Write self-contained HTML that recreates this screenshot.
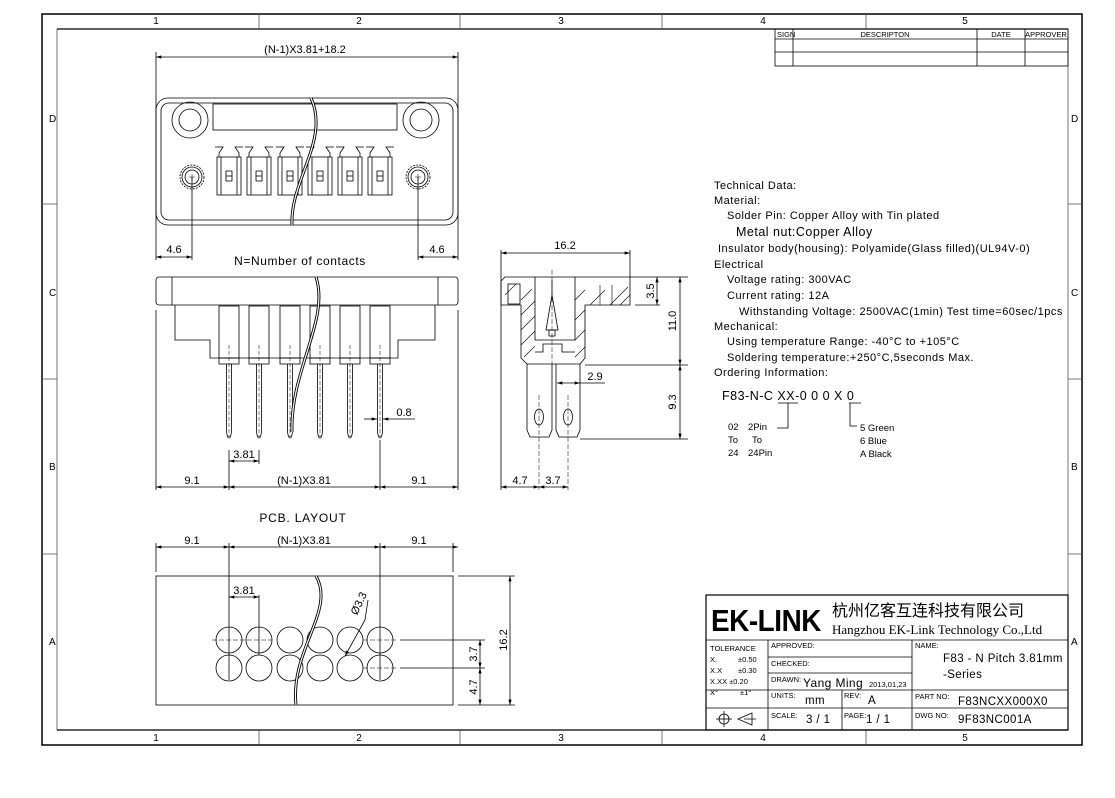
<!DOCTYPE html>
<html><head><meta charset="utf-8"><style>
body{margin:0;background:#fff}
svg{display:block}
text{font-family:"Liberation Sans","Noto Sans CJK SC",sans-serif;fill:#000}
</style></head><body>
<svg width="1115" height="798" viewBox="0 0 1115 798" xmlns="http://www.w3.org/2000/svg">
<defs>
<g id="term" fill="none" stroke="#000" stroke-width="0.8">
 <path d="M-14,147 h8 l-4,6 v4 M14,147 h-8 l4,6 v4"/>
 <rect x="-12" y="157" width="24" height="38"/>
 <line x1="-8" y1="157" x2="-8" y2="195"/><line x1="8" y1="157" x2="8" y2="195"/>
 <rect x="-3" y="171" width="6" height="10"/><line x1="-3" y1="176" x2="3" y2="176"/>
</g>
<g id="nut" fill="none" stroke="#000" stroke-width="0.8">
 <circle r="12" stroke-dasharray="2 1.2"/><circle r="10"/><circle r="7"/>
 <line x1="-3" y1="0" x2="3" y2="0" stroke-width="0.5"/><line x1="0" y1="-3" x2="0" y2="3" stroke-width="0.5"/>
</g>
<g id="pin" fill="none" stroke="#000" stroke-width="0.8">
 <rect x="-10" y="306" width="20" height="52"/><rect x="-10" y="358" width="20" height="6"/>
 <path d="M-2.5,364 V432 L-1.5,437 H1.5 L2.5,432 V364"/>
 <line x1="0" y1="345" x2="0" y2="440" stroke-dasharray="4 2" stroke-width="0.5"/>
</g>
<g id="hole" fill="none" stroke="#000" stroke-width="0.8"><circle r="13"/></g>
<marker id="a" viewBox="0 0 10 6" refX="10" refY="3" markerWidth="8" markerHeight="4" orient="auto-start-reverse"><path d="M0,0 L10,3 L0,6z" fill="#000"/></marker>
</defs>
<g fill="none" stroke="#000">
<rect x="42" y="14" width="1040" height="731" stroke-width="1.5"/>
<rect x="57" y="29" width="1011" height="701" stroke-width="0.8" stroke="#555"/>
<line x1="57" y1="29" x2="1068" y2="29" stroke-width="1.2"/>
<line x1="57" y1="730" x2="1068" y2="730" stroke-width="1.2"/>
<g stroke="#555" stroke-width="0.8">
<line x1="259" y1="14" x2="259" y2="29"/><line x1="460" y1="14" x2="460" y2="29"/><line x1="662" y1="14" x2="662" y2="29"/><line x1="866" y1="14" x2="866" y2="29"/>
<line x1="259" y1="730" x2="259" y2="745"/><line x1="460" y1="730" x2="460" y2="745"/><line x1="662" y1="730" x2="662" y2="745"/><line x1="866" y1="730" x2="866" y2="745"/>
<line x1="42" y1="204" x2="57" y2="204"/><line x1="42" y1="379" x2="57" y2="379"/><line x1="42" y1="554" x2="57" y2="554"/>
<line x1="1068" y1="204" x2="1082" y2="204"/><line x1="1068" y1="379" x2="1082" y2="379"/><line x1="1068" y1="554" x2="1082" y2="554"/>
</g>
<g stroke-width="0.8">
<rect x="775" y="29" width="293" height="37"/>
<line x1="775" y1="39" x2="1068" y2="39"/><line x1="775" y1="52" x2="1068" y2="52"/>
<line x1="793" y1="29" x2="793" y2="66"/><line x1="977" y1="29" x2="977" y2="66"/><line x1="1025" y1="29" x2="1025" y2="66"/>
</g>

<g stroke-width="0.8">
<line x1="156" y1="57" x2="458" y2="57" marker-start="url(#a)" marker-end="url(#a)"/>
<line x1="156" y1="52" x2="156" y2="260"/><line x1="458" y1="52" x2="458" y2="260"/>
<rect x="156" y="98" width="302" height="127" rx="12"/>
<rect x="161" y="103" width="292" height="117" rx="8"/>
<rect x="213" y="104" width="184" height="26"/>
<circle cx="190" cy="120" r="18"/><circle cx="190" cy="120" r="11"/>
<circle cx="421" cy="120" r="18"/><circle cx="421" cy="120" r="11"/>
<use href="#term" x="229"/><use href="#term" x="259"/><use href="#term" x="290"/><use href="#term" x="320"/><use href="#term" x="350"/><use href="#term" x="380"/>
<use href="#nut" x="192" y="177"/><use href="#nut" x="418" y="177"/>
<line x1="192" y1="177" x2="192" y2="260"/><line x1="418" y1="177" x2="418" y2="260"/>
<line x1="156" y1="257" x2="192" y2="257" marker-start="url(#a)" marker-end="url(#a)"/>
<line x1="418" y1="257" x2="458" y2="257" marker-start="url(#a)" marker-end="url(#a)"/>
<path d="M311,98 C330,140 290,180 292,225" stroke-width="3"/><path d="M311,98 C330,140 290,180 292,225" stroke="#fff" stroke-width="1.2"/>
</g>

<g stroke-width="0.8">
<rect x="156" y="277" width="302" height="28" rx="3"/>
<line x1="172" y1="277" x2="172" y2="305"/><line x1="438" y1="277" x2="438" y2="305"/>
<path d="M175,305 V340 H210 V358 H398 V340 H435 V305"/>
<use href="#pin" x="229"/><use href="#pin" x="259"/><use href="#pin" x="290"/><use href="#pin" x="320"/><use href="#pin" x="350"/><use href="#pin" x="380"/>
<path d="M316,277 C330,320 290,370 292,432" stroke-width="3"/><path d="M316,277 C330,320 290,370 292,432" stroke="#fff" stroke-width="1.2"/>
<line x1="156" y1="310" x2="156" y2="490"/><line x1="458" y1="310" x2="458" y2="490"/>
<line x1="229" y1="450" x2="229" y2="490"/><line x1="259" y1="450" x2="259" y2="464"/><line x1="380" y1="440" x2="380" y2="490"/>
<line x1="229" y1="461" x2="259" y2="461" marker-start="url(#a)" marker-end="url(#a)"/>
<line x1="364" y1="419" x2="377" y2="419" marker-end="url(#a)"/><line x1="383" y1="419" x2="415" y2="419" marker-start="url(#a)"/>
<line x1="156" y1="487" x2="229" y2="487" marker-start="url(#a)" marker-end="url(#a)"/>
<line x1="229" y1="487" x2="380" y2="487" marker-start="url(#a)" marker-end="url(#a)"/>
<line x1="380" y1="487" x2="458" y2="487" marker-start="url(#a)" marker-end="url(#a)"/>
</g>

<g stroke-width="0.8">
<line x1="501" y1="253" x2="630" y2="253" marker-start="url(#a)" marker-end="url(#a)"/>
<line x1="501" y1="250" x2="501" y2="490"/><line x1="630" y1="250" x2="630" y2="277"/>
<path d="M505,277 H630 V305 H585 V358 L580,364 H527 L521,358 V305 H501 V281 Z"/>
<path d="M535,277 V340 H575 V277"/>
<rect x="508" y="284" width="12" height="20"/>
<g stroke-width="0.6">
<path d="M521,300 L532,289 M521,315 L535,301 M521,330 L535,316 M521,345 L535,331 M524,357 L535,346 M505,295 L516,284 M575,300 L585,290 M575,320 L585,310 M575,340 L585,330 M575,357 L585,347 M590,305 L605,290 M610,305 L628,287 M620,305 L630,295"/>
<line x1="600" y1="285" x2="600" y2="305"/><line x1="612" y1="285" x2="612" y2="305"/>
</g>
<path d="M552,280 V295 L546,330 H558 L552,295" />
<rect x="549" y="330" width="6" height="6"/>
<path d="M535,352 H543 V344 H562 V352 H575"/>
<path d="M527,364 V430 L530,437 H549 L552,430 V364 M556,364 V430 L559,437 H577 L580,430 V364"/>
<ellipse cx="539" cy="417" rx="4.5" ry="8"/><ellipse cx="568" cy="417" rx="4.5" ry="8"/>
<line x1="539" y1="395" x2="539" y2="490" stroke-dasharray="5 2" stroke-width="0.5"/>
<line x1="568" y1="395" x2="568" y2="490" stroke-dasharray="5 2" stroke-width="0.5"/>
<line x1="552" y1="270" x2="552" y2="364" stroke-dasharray="5 2" stroke-width="0.5"/>
<line x1="635" y1="305" x2="660" y2="305"/><line x1="630" y1="277" x2="688" y2="277"/><line x1="585" y1="365" x2="688" y2="365"/><line x1="580" y1="439" x2="688" y2="439"/>
<line x1="657" y1="277" x2="657" y2="305" marker-start="url(#a)" marker-end="url(#a)"/>
<line x1="680" y1="277" x2="680" y2="365" marker-start="url(#a)" marker-end="url(#a)"/>
<line x1="680" y1="365" x2="680" y2="439" marker-start="url(#a)" marker-end="url(#a)"/>
<line x1="557" y1="383" x2="580" y2="383" marker-start="url(#a)" marker-end="url(#a)"/><line x1="580" y1="383" x2="605" y2="383"/>
<line x1="501" y1="487" x2="539" y2="487" marker-start="url(#a)" marker-end="url(#a)"/>
<line x1="539" y1="487" x2="568" y2="487" marker-start="url(#a)" marker-end="url(#a)"/>
</g>

<g stroke-width="0.8">
<line x1="156" y1="547" x2="229" y2="547" marker-start="url(#a)" marker-end="url(#a)"/>
<line x1="229" y1="547" x2="380" y2="547" marker-start="url(#a)" marker-end="url(#a)"/>
<line x1="380" y1="547" x2="458" y2="547" marker-start="url(#a)" marker-end="url(#a)"/>
<line x1="156" y1="543" x2="156" y2="572"/><line x1="453" y1="543" x2="453" y2="572"/>
<line x1="229" y1="543" x2="229" y2="680"/><line x1="380" y1="543" x2="380" y2="680"/><line x1="259" y1="595" x2="259" y2="655"/>
<rect x="156" y="576" width="297" height="129"/>
<line x1="229" y1="597" x2="259" y2="597" marker-start="url(#a)" marker-end="url(#a)"/>
<use href="#hole" x="229" y="640"/><use href="#hole" x="259" y="640"/><use href="#hole" x="290" y="640"/><use href="#hole" x="320" y="640"/><use href="#hole" x="350" y="640"/><use href="#hole" x="380" y="640"/>
<use href="#hole" x="229" y="668"/><use href="#hole" x="259" y="668"/><use href="#hole" x="290" y="668"/><use href="#hole" x="320" y="668"/><use href="#hole" x="350" y="668"/><use href="#hole" x="380" y="668"/>
<g stroke-width="0.5" stroke-dasharray="5 2"><line x1="212" y1="640" x2="272" y2="640"/><line x1="363" y1="640" x2="397" y2="640"/><line x1="363" y1="668" x2="397" y2="668"/></g>
<line x1="345" y1="656" x2="365" y2="620" marker-start="url(#a)"/><line x1="365" y1="620" x2="368" y2="600"/>
<line x1="400" y1="640" x2="485" y2="640"/><line x1="400" y1="668" x2="485" y2="668"/><line x1="458" y1="576" x2="515" y2="576"/><line x1="458" y1="705" x2="515" y2="705"/>
<line x1="480" y1="640" x2="480" y2="668" marker-start="url(#a)" marker-end="url(#a)"/>
<line x1="480" y1="668" x2="480" y2="705" marker-start="url(#a)" marker-end="url(#a)"/>
<line x1="510" y1="576" x2="510" y2="705" marker-start="url(#a)" marker-end="url(#a)"/>
<path d="M316,576 C336,610 290,650 296,705" stroke-width="3"/><path d="M316,576 C336,610 290,650 296,705" stroke="#fff" stroke-width="1.2"/>
</g>

<g stroke-width="0.8">
<rect x="706" y="595" width="362" height="135" stroke-width="1.2"/>
<line x1="706" y1="640" x2="1068" y2="640"/>
<line x1="768" y1="640" x2="768" y2="730"/><line x1="912" y1="640" x2="912" y2="730"/>
<line x1="768" y1="657" x2="912" y2="657"/><line x1="768" y1="673" x2="912" y2="673"/><line x1="706" y1="690" x2="1068" y2="690"/><line x1="706" y1="708" x2="1068" y2="708"/>
<line x1="842" y1="690" x2="842" y2="730"/>
<circle cx="724" cy="719" r="5"/><line x1="716" y1="719" x2="732" y2="719"/><line x1="724" y1="711" x2="724" y2="727"/>
<path d="M738,719 L752,713 V725 Z M744,719 H756"/>
</g>
</g>

<g font-size="10">
<text x="156" y="24" text-anchor="middle">1</text><text x="359" y="24" text-anchor="middle">2</text><text x="561" y="24" text-anchor="middle">3</text><text x="763" y="24" text-anchor="middle">4</text><text x="965" y="24" text-anchor="middle">5</text>
<text x="156" y="741" text-anchor="middle">1</text><text x="359" y="741" text-anchor="middle">2</text><text x="561" y="741" text-anchor="middle">3</text><text x="763" y="741" text-anchor="middle">4</text><text x="965" y="741" text-anchor="middle">5</text>
<text x="49" y="122">D</text><text x="49" y="296">C</text><text x="49" y="470">B</text><text x="49" y="645">A</text>
<text x="1071" y="122">D</text><text x="1071" y="296">C</text><text x="1071" y="470">B</text><text x="1071" y="645">A</text>
</g>
<g font-size="7.5">
<text x="777" y="37">SIGN</text><text x="885" y="37" text-anchor="middle">DESCRIPTON</text><text x="1001" y="37" text-anchor="middle">DATE</text><text x="1046" y="37" text-anchor="middle">APPROVER</text>
</g>
<g font-size="11">
<text x="305" y="53" text-anchor="middle">(N-1)X3.81+18.2</text>
<text x="174" y="253" text-anchor="middle">4.6</text><text x="437" y="253" text-anchor="middle">4.6</text>
<text x="300" y="265" text-anchor="middle" font-size="12" style="letter-spacing:0.6px">N=Number of contacts</text>
<text x="244" y="458" text-anchor="middle">3.81</text><text x="404" y="416" text-anchor="middle">0.8</text>
<text x="192" y="484" text-anchor="middle">9.1</text><text x="304" y="484" text-anchor="middle">(N-1)X3.81</text><text x="419" y="484" text-anchor="middle">9.1</text>
<text x="565" y="249" text-anchor="middle">16.2</text>
<text x="595" y="380" text-anchor="middle">2.9</text>
<text x="520" y="484" text-anchor="middle">4.7</text><text x="553" y="484" text-anchor="middle">3.7</text>
<text transform="translate(654,291) rotate(-90)" text-anchor="middle">3.5</text>
<text transform="translate(676,321) rotate(-90)" text-anchor="middle">11.0</text>
<text transform="translate(676,402) rotate(-90)" text-anchor="middle">9.3</text>
<text x="303" y="522" text-anchor="middle" font-size="12" style="letter-spacing:0.8px">PCB. LAYOUT</text>
<text x="192" y="544" text-anchor="middle">9.1</text><text x="304" y="544" text-anchor="middle">(N-1)X3.81</text><text x="419" y="544" text-anchor="middle">9.1</text>
<text x="244" y="594" text-anchor="middle">3.81</text>
<text transform="translate(362,605) rotate(-65)" text-anchor="middle">Ø3.3</text>
<text transform="translate(477,654) rotate(-90)" text-anchor="middle">3.7</text>
<text transform="translate(477,687) rotate(-90)" text-anchor="middle">4.7</text>
<text transform="translate(507,640) rotate(-90)" text-anchor="middle">16.2</text>
</g>
<g font-size="11" style="letter-spacing:0.5px">
<text x="714" y="189">Technical Data:</text>
<text x="714" y="204">Material:</text>
<text x="727" y="219">Solder Pin: Copper Alloy with Tin plated</text>
<text x="736" y="236" font-size="12.5">Metal nut:Copper Alloy</text>
<text x="718" y="252">Insulator body(housing): Polyamide(Glass filled)(UL94V-0)</text>
<text x="714" y="268">Electrical</text>
<text x="727" y="283">Voltage rating: 300VAC</text>
<text x="727" y="299">Current rating: 12A</text>
<text x="739" y="315">Withstanding Voltage: 2500VAC(1min) Test time=60sec/1pcs</text>
<text x="714" y="330">Mechanical:</text>
<text x="727" y="345">Using temperature Range: -40°C to +105°C</text>
<text x="727" y="361">Soldering temperature:+250°C,5seconds Max.</text>
<text x="714" y="376">Ordering Information:</text>
<text x="722" y="400" font-size="12.5">F83-N-C XX-0 0 0 X 0</text>
</g>
<g stroke="#000" fill="none" stroke-width="0.8"><path d="M778,403 H798 M788,403 V428 H777 M849,403 H861 M850,403 V426 H857"/></g>
<g font-size="9.5">
<text x="728" y="430">02</text><text x="748" y="430">2Pin</text>
<text x="728" y="443">To</text><text x="752" y="443">To</text>
<text x="728" y="456">24</text><text x="748" y="456">24Pin</text>
<text x="860" y="431">5  Green</text><text x="860" y="444">6  Blue</text><text x="860" y="457">A  Black</text>
</g>
<text x="711" y="631" font-size="31" font-weight="bold" transform="translate(711,0) scale(0.9,1) translate(-711,0)" style="letter-spacing:-0.5px">EK-LINK</text>
<text x="832" y="616" font-size="16" style="font-family:'Noto Sans CJK SC',sans-serif">杭州亿客互连科技有限公司</text>
<text x="832" y="634" font-size="13" style="font-family:'Liberation Serif',serif">Hangzhou EK-Link Technology Co.,Ltd</text>
<g font-size="7.5">
<text x="710" y="651">TOLERANCE</text>
<text x="710" y="662">X.</text><text x="738" y="662">±0.50</text>
<text x="710" y="673">X.X</text><text x="738" y="673">±0.30</text>
<text x="710" y="684">X.XX ±0.20</text>
<text x="710" y="695">X°</text><text x="740" y="695">±1°</text>
<text x="771" y="648">APPROVED:</text><text x="771" y="666">CHECKED:</text><text x="771" y="682">DRAWN:</text>
<text x="771" y="698">UNITS:</text><text x="771" y="718">SCALE:</text>
<text x="844" y="698">REV:</text><text x="844" y="718">PAGE:</text>
<text x="915" y="648">NAME:</text><text x="915" y="699">PART NO:</text><text x="915" y="718">DWG NO:</text>
<text x="869" y="687">2013,01,23</text>
</g>
<g font-size="11.5" style="letter-spacing:0.4px">
<text x="803" y="687" font-size="12">Yang Ming</text>
<text x="805" y="704">mm</text><text x="868" y="704">A</text>
<text x="806" y="723">3 / 1</text><text x="866" y="723">1 / 1</text>
<text x="943" y="662">F83 - N  Pitch 3.81mm</text>
<text x="943" y="678">-Series</text>
<text x="958" y="705">F83NCXX000X0</text>
<text x="958" y="723">9F83NC001A</text>
</g>
</svg>
</body></html>
